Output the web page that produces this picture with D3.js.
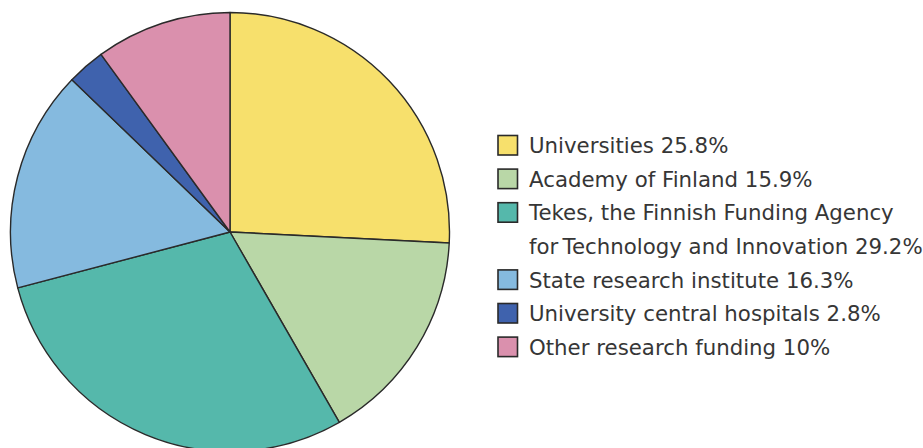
<html>
<head>
<style>
body { margin: 0; background: #fff; }
.legend text {
    font-family: 'DejaVu Sans', sans-serif;
    font-size: 21.3px;
    fill: #363636;
}
</style>
</head>
<body>

<svg></svg>

<script src="https://d3js.org/d3.v7.min.js"></script>
<script>

const categories = [
    'Universities',
    'Academy of Finland',
    'Tekes, the Finnish Funding Agency',
    'State research institute',
    'University central hospitals',
    'Other research funding',
];
const shares = [25.8, 15.9, 29.2, 16.3, 2.8, 10];
const legendLabels = [
    ['Universities 25.8%'],
    ['Academy of Finland 15.9%'],
    ['Tekes, the Finnish Funding Agency', 'for\u2009Technology and Innovation 29.2%'],
    ['State research institute 16.3%'],
    ['University central hospitals 2.8%'],
    ['Other research funding 10%'],
];
const sliceColors = ['#f7e06c', '#b9d7a7', '#55b8ab', '#85badf', '#3f62ad', '#da90ad'];

const fullWidth = 923;
const fullHeight = 448;
const center = [230, 232];
const radius = 219.5;

const svg = d3.select('svg')
    .attr('width', fullWidth)
    .attr('height', fullHeight);

const color = d3.scaleOrdinal()
    .domain(categories)
    .range(sliceColors);

const pie = d3.pie()
    .value(d => d.value)
    .sort(null);

const arc = d3.arc()
    .innerRadius(0)
    .outerRadius(radius);

const data = categories.map((c, i) => ({name: c, value: shares[i]}));

const g = svg.append('g')
    .attr('transform', `translate(${center[0]}, ${center[1]})`);

g.selectAll('path').data(pie(data))
    .enter().append('path')
        .attr('d', arc)
        .attr('fill', d => color(d.data.name))
        .attr('stroke', '#2a2a2a')
        .attr('stroke-width', 1.4)
        .attr('stroke-linejoin', 'round');

// legend rows, the Tekes entry wraps onto a second line
const rowHeight = 33.6;
let row = 0;
const rows = legendLabels.map((lines, i) => {
    const r = row;
    row += lines.length;
    return {name: categories[i], lines: lines, row: r};
});

const legend = svg.append('g')
    .attr('class', 'legend')
    .attr('transform', 'translate(497, 145.5)');

const item = legend.selectAll('g').data(rows)
    .enter().append('g')
        .attr('transform', d => `translate(0, ${d.row * rowHeight})`);

item.append('rect')
    .attr('x', 1)
    .attr('y', -10)
    .attr('width', 19.5)
    .attr('height', 19.5)
    .attr('fill', d => color(d.name))
    .attr('stroke', '#2a2a2a')
    .attr('stroke-width', 1.6);

item.selectAll('text').data(d => d.lines)
    .enter().append('text')
        .attr('x', 32)
        .attr('y', (d, i) => i * rowHeight)
        .attr('dy', '0.36em')
        .text(d => d);

</script>
</body>
</html>
